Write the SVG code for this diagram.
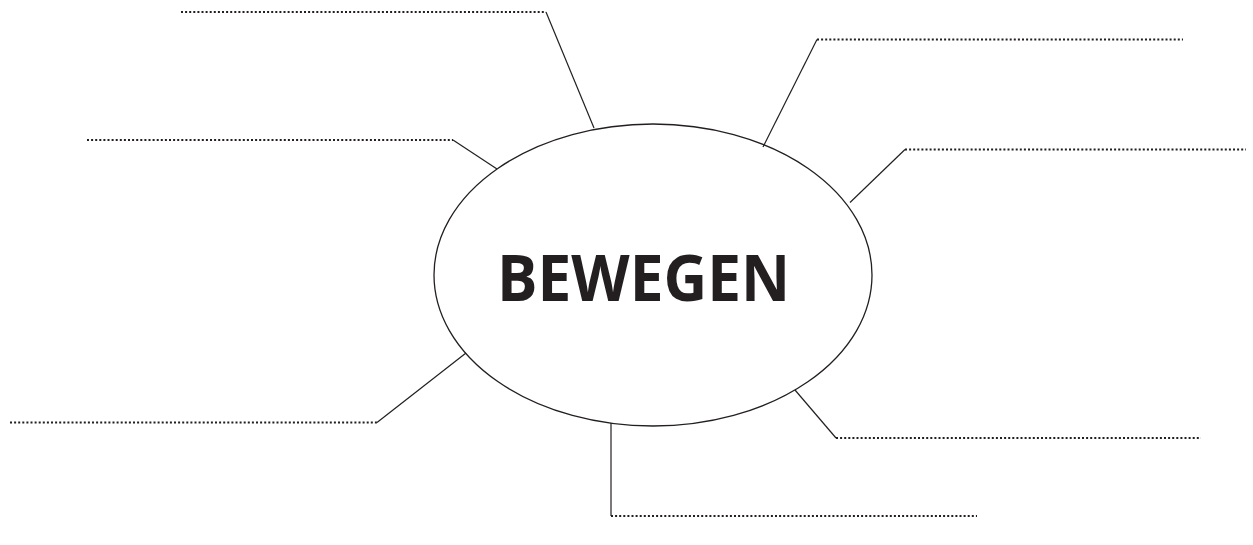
<svg xmlns="http://www.w3.org/2000/svg" width="1253" height="545" viewBox="0 0 1253 545">
<style>
.bg{fill:#ffffff}
.ell{fill:#ffffff;stroke:#231f20;stroke-width:1.3}
.dot{fill:none;stroke:#231f20;stroke-width:2.1;stroke-dasharray:2 2.1}
.con{fill:none;stroke:#231f20;stroke-width:1.2}
.title{font-family:"Open Sans","Liberation Sans",sans-serif;font-weight:700;font-size:65px;fill:#231f20}
</style>
<rect class="bg" x="0" y="0" width="1253" height="545"/>
<g id="center">
  <ellipse class="ell" cx="653" cy="275" rx="219" ry="151"/>
  <text class="title" x="643.5" y="300.5" text-anchor="middle" textLength="293" lengthAdjust="spacingAndGlyphs">BEWEGEN</text>
</g>
<g id="connectors">
  <line class="con" x1="546" y1="12" x2="594" y2="128"/>
  <line class="con" x1="817" y1="39.5" x2="763" y2="147"/>
  <line class="con" x1="905" y1="149.5" x2="850" y2="202.5"/>
  <line class="con" x1="453" y1="140" x2="497" y2="169"/>
  <line class="con" x1="377" y1="422.5" x2="466" y2="353"/>
  <line class="con" x1="836" y1="438" x2="795" y2="390"/>
  <line class="con" x1="611" y1="423" x2="611" y2="516"/>
</g>
<g id="line-top-left"><line class="dot" x1="181" y1="12" x2="546" y2="12"/></g>
<g id="line-top-right"><line class="dot" x1="817" y1="39.5" x2="1183" y2="39.5"/></g>
<g id="line-right"><line class="dot" x1="905" y1="149.5" x2="1246" y2="149.5"/></g>
<g id="line-left"><line class="dot" x1="87" y1="140" x2="453" y2="140"/></g>
<g id="line-bottom-left"><line class="dot" x1="10" y1="422.5" x2="377" y2="422.5"/></g>
<g id="line-bottom-right"><line class="dot" x1="836" y1="438" x2="1201" y2="438"/></g>
<g id="line-bottom"><line class="dot" x1="611" y1="516" x2="977" y2="516"/></g>
</svg>
